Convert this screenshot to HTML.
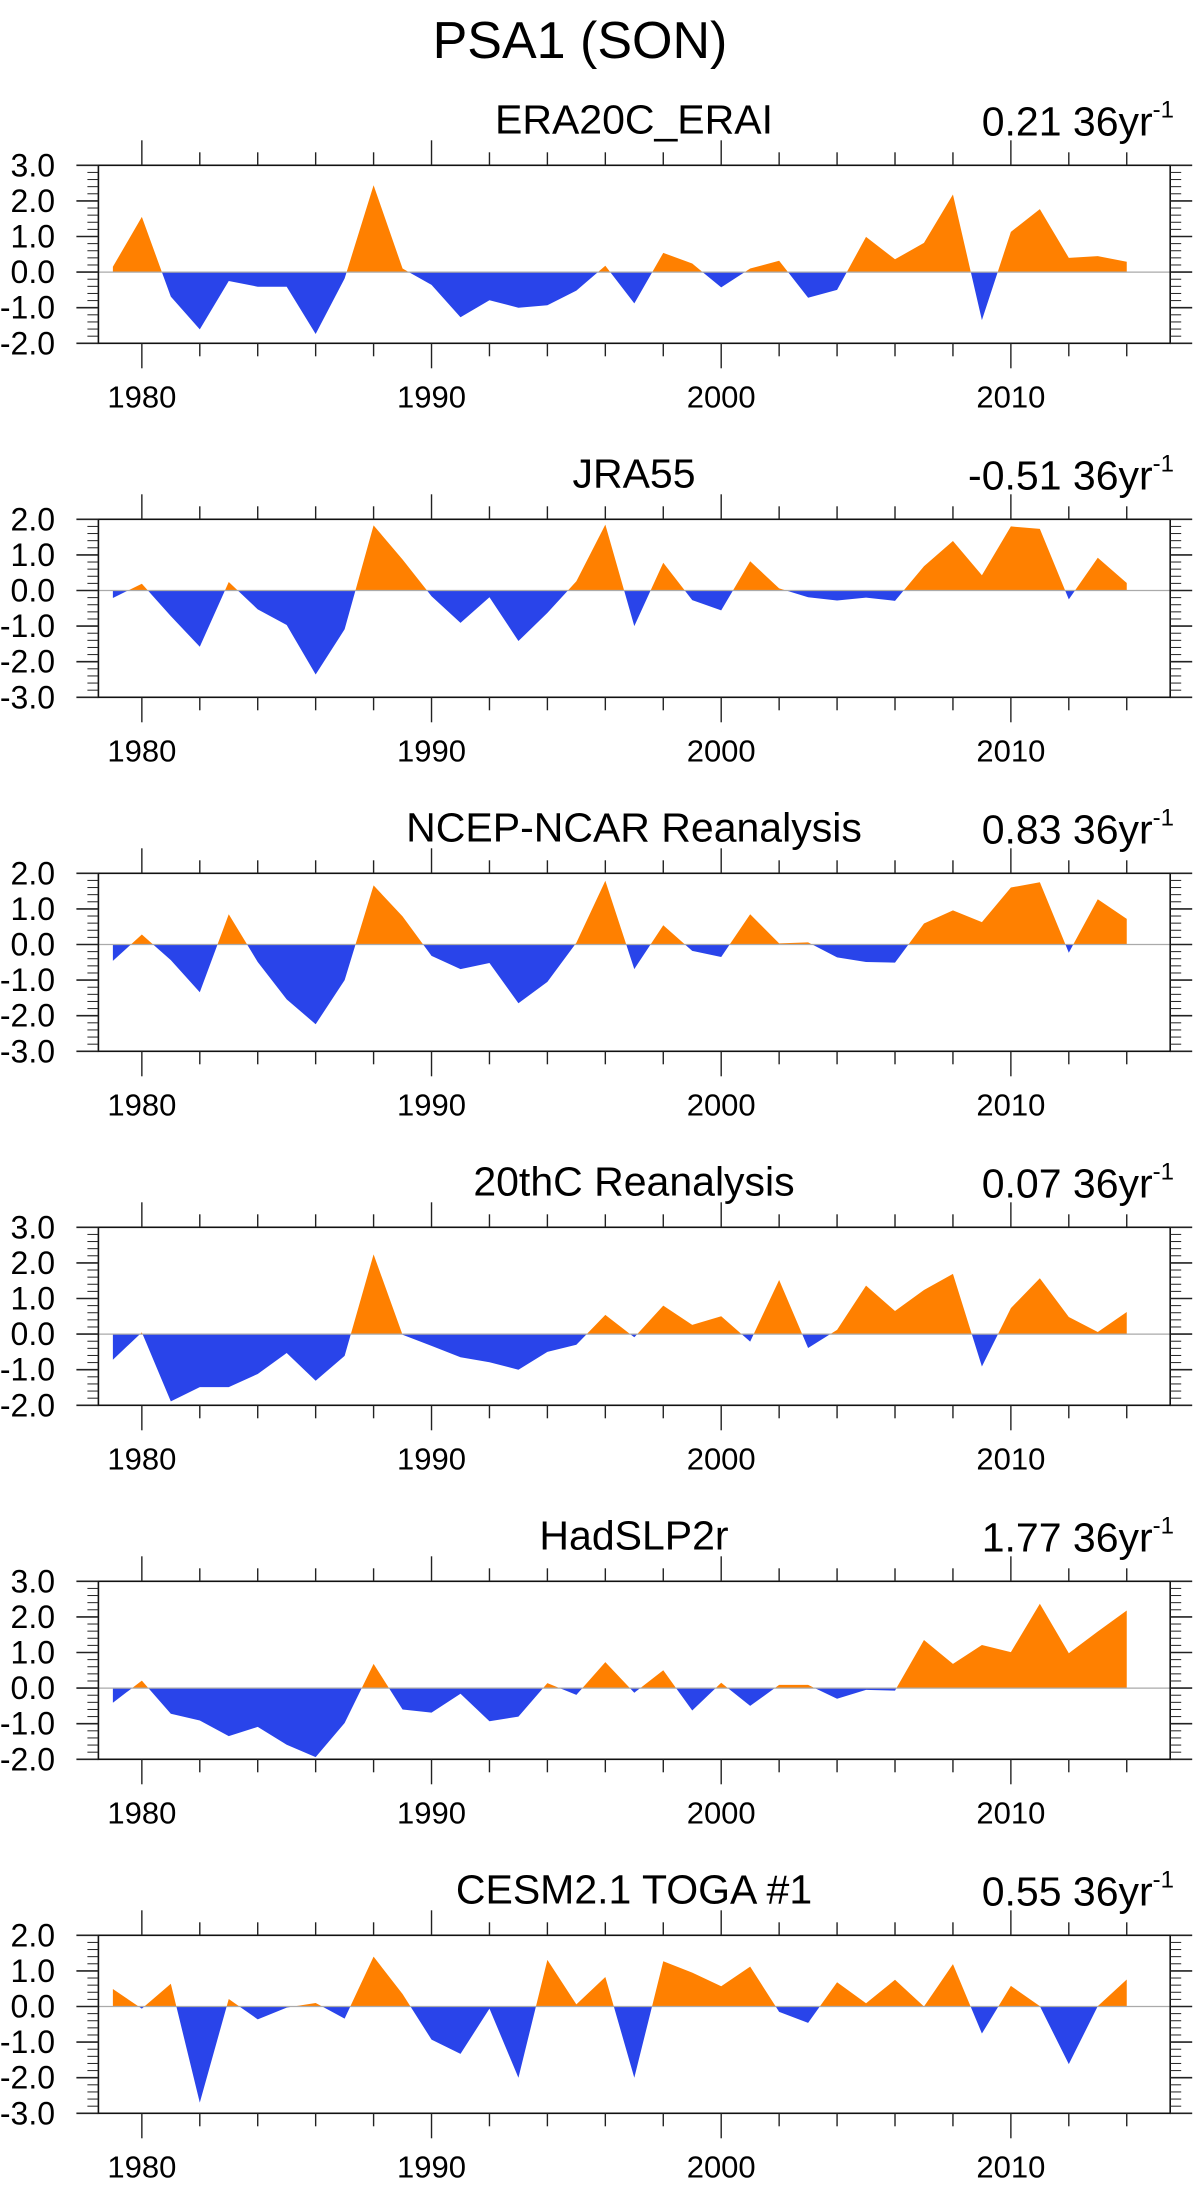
<!DOCTYPE html>
<html><head><meta charset="utf-8"><style>
html,body{margin:0;padding:0;background:#fff}
svg{display:block;font-family:"Liberation Sans",Arial,sans-serif}
</style></head><body>
<svg id="fig" width="1198" height="2186" viewBox="0 0 1198 2186" xmlns="http://www.w3.org/2000/svg">
<text x="580" y="58" font-size="52" text-anchor="middle">PSA1 (SON)</text>
</svg>
<script>
const years = [1979,1980,1981,1982,1983,1984,1985,1986,1987,1988,1989,1990,1991,1992,1993,1994,1995,1996,1997,1998,1999,2000,2001,2002,2003,2004,2005,2006,2007,2008,2009,2010,2011,2012,2013,2014];
const era20cErai = [0.15,1.55,-0.69,-1.61,-0.25,-0.41,-0.41,-1.74,-0.18,2.44,0.1,-0.36,-1.27,-0.79,-1.0,-0.93,-0.52,0.18,-0.88,0.54,0.24,-0.43,0.1,0.32,-0.72,-0.5,0.99,0.36,0.82,2.18,-1.35,1.13,1.77,0.4,0.45,0.29];
const jra55 = [-0.21,0.19,-0.72,-1.58,0.24,-0.53,-0.97,-2.36,-1.09,1.83,0.87,-0.16,-0.91,-0.19,-1.42,-0.63,0.26,1.85,-1.0,0.78,-0.27,-0.56,0.82,0.06,-0.19,-0.28,-0.2,-0.29,0.68,1.39,0.43,1.8,1.73,-0.25,0.92,0.21];
const ncepNcar = [-0.46,0.28,-0.44,-1.34,0.85,-0.49,-1.54,-2.24,-1.0,1.66,0.79,-0.32,-0.69,-0.52,-1.65,-1.05,0.05,1.79,-0.69,0.54,-0.18,-0.35,0.85,0.03,0.06,-0.36,-0.49,-0.51,0.59,0.96,0.63,1.6,1.75,-0.23,1.27,0.72];
const c20Reanalysis = [-0.72,0.05,-1.89,-1.49,-1.49,-1.12,-0.53,-1.31,-0.61,2.24,-0.02,-0.33,-0.65,-0.79,-1.0,-0.5,-0.3,0.54,-0.09,0.8,0.26,0.5,-0.21,1.52,-0.39,0.12,1.36,0.65,1.24,1.69,-0.91,0.73,1.57,0.48,0.06,0.62];
const hadSlp2r = [-0.41,0.21,-0.72,-0.91,-1.35,-1.09,-1.59,-1.94,-0.98,0.68,-0.6,-0.69,-0.16,-0.93,-0.8,0.14,-0.19,0.73,-0.13,0.5,-0.63,0.15,-0.5,0.09,0.09,-0.3,-0.05,-0.07,1.35,0.68,1.21,1.01,2.37,0.98,1.59,2.18];
const cesmToga1 = [0.49,-0.06,0.64,-2.7,0.21,-0.36,-0.03,0.1,-0.34,1.4,0.35,-0.93,-1.33,-0.06,-2.0,1.31,0.06,0.83,-2.0,1.27,0.95,0.57,1.12,-0.15,-0.46,0.68,0.09,0.75,0.0,1.19,-0.76,0.58,0.01,-1.62,0.01,0.76];
const panelTitles = ["ERA20C_ERAI","JRA55","NCEP-NCAR Reanalysis","20thC Reanalysis","HadSLP2r","CESM2.1 TOGA #1"];
const trendValues = ["0.21","-0.51","0.83","0.07","1.77","0.55"];
const yMaxes = [3,2,2,3,3,2];
const xTickLabels = [1980,1990,2000,2010];
const series = [era20cErai,jra55,ncepNcar,c20Reanalysis,hadSlp2r,cesmToga1];
const panelNames = ["era20c-erai","jra55","ncep-ncar","20thc-reanalysis","hadslp2r","cesm-toga1"];

const NS="http://www.w3.org/2000/svg";
const svg=document.getElementById('fig');
const L=98.4,R=1170.2,H=178,X0=1978.5,X1=2015.5;
const ORANGE="#ff8000",BLUE="#2944ea";
function xs(yr){return L+(yr-X0)/(X1-X0)*(R-L);}
function mk(tag,attrs,parent){const e=document.createElementNS(NS,tag);for(const k in attrs)e.setAttribute(k,attrs[k]);(parent||svg).appendChild(e);return e;}

series.forEach((vals,p)=>{
  const top=165.3+p*354;
  const ymax=yMaxes[p], ymin=ymax-5;
  const ys=v=>top+(ymax-v)/5*H;
  const g=mk('g',{});
  
  
  const z=ys(0);
  let posPts=[[xs(years[0]),z]],negPts=[[xs(years[0]),z]];
  for(let i=0;i<vals.length;i++){
    const x=xs(years[i]),v=vals[i];
    if(i>0){
      const v0=vals[i-1];
      if((v0>0&&v<0)||(v0<0&&v>0)){
        const t=v0/(v0-v);const xc=xs(years[i-1]+t);
        posPts.push([xc,z]);negPts.push([xc,z]);
      }
    }
    posPts.push([x,ys(Math.max(v,0))]);
    negPts.push([x,ys(Math.min(v,0))]);
  }
  const xe=xs(years[years.length-1]);
  posPts.push([xe,z]);negPts.push([xe,z]);
  const pp=mk('polygon',{points:posPts.map(a=>a.join(',')).join(' '),fill:ORANGE},g);
  
  
  const np=mk('polygon',{points:negPts.map(a=>a.join(',')).join(' '),fill:BLUE},g);
  
  
  const zl=mk('line',{x1:L,x2:R,y1:z,y2:z,stroke:'#aaa','stroke-width':1.2},g);
  
  
  const fr=mk('rect',{x:L,y:top,width:R-L,height:H,fill:'none',stroke:'#111','stroke-width':1.6},g);
  
  
  for(let k=0;k<=25;k++){
    const v=ymin+k*0.2;const y=ys(v);const major=(k%5===0);
    mk('line',{x1:L-(major?22:11),x2:L,y1:y,y2:y,stroke:'#222','stroke-width':major?1.6:1},g);
    mk('line',{x1:R,x2:R+(major?22:11),y1:y,y2:y,stroke:'#222','stroke-width':major?1.6:1},g);
    if(major){
      const t=mk('text',{x:55,y:y+11,'font-size':32,'text-anchor':'end'},g);
      t.textContent=v.toFixed(1);
      
      
    }
  }
  for(let yr=1980;yr<=2014;yr+=2){
    const x=xs(yr);const major=(yr%10===0);
    mk('line',{x1:x,x2:x,y1:top-(major?25:13),y2:top,stroke:'#222','stroke-width':1.4},g);
    mk('line',{x1:x,x2:x,y1:top+H,y2:top+H+(major?25:13),stroke:'#222','stroke-width':1.4},g);
  }
  xTickLabels.forEach(yr=>{
    const t=mk('text',{x:xs(yr),y:top+242,'font-size':31,'text-anchor':'middle'},g);
    t.textContent=yr;
    
    
  });
  const tt=mk('text',{x:634,y:top-32,'font-size':41,'text-anchor':'middle'},g);
  tt.textContent=panelTitles[p];
  
  
  const tr=mk('text',{x:1174,y:top-30,'font-size':41,'text-anchor':'end'},g);
  
  
  tr.textContent=trendValues[p]+' 36yr';
  const sp=mk('tspan',{'font-size':24,dy:-18},tr);
  sp.textContent='-1';
});
</script>
</body></html>
